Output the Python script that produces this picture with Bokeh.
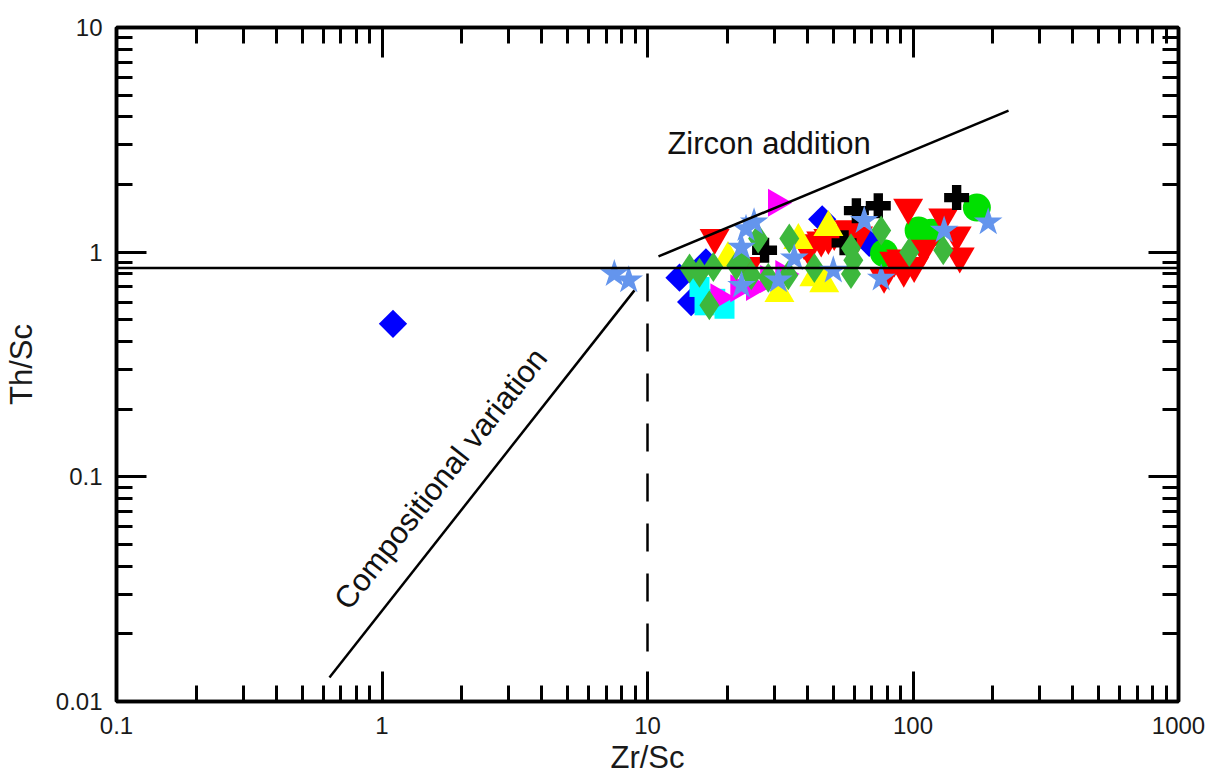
from bokeh.plotting import figure
from bokeh.models import LogAxis, FixedTicker, CustomJSTickFormatter, Span, Label
from bokeh.embed import file_html
from bokeh.resources import INLINE
import math

# ---- axis ticks -------------------------------------------------------
x_major = [0.1, 1, 10, 100, 1000]
y_major = [0.01, 0.1, 1, 10]

# ---- sample groups: Zr/Sc (x) and Th/Sc (y) ---------------------------
blue_zr = [1.10, 13.2, 14.6, 16.6, 45.5, 68.4]
blue_th = [0.48, 0.77, 0.60, 0.90, 1.40, 1.10]

cyan_zr = [16.4, 19.5, 15.7, 18.0]
cyan_th = [0.58, 0.56, 0.70, 0.62]

lime_zr = [174, 105, 117, 77.8]
lime_th = [1.58, 1.25, 1.22, 0.99]

red_zr = [17.9, 45.1, 50.5, 57.5, 40.3, 62.1, 95.9, 130, 150, 146, 110,
          90.3, 101, 77.8, 85.0, 92.3, 48.0, 24.0, 38.9]
red_th = [1.16, 1.13, 1.21, 1.27, 1.04, 1.19, 1.58, 1.43, 0.96, 1.19, 1.04,
          0.94, 0.87, 0.78, 0.92, 0.83, 1.16, 0.87, 1.10]

black_zr = [146, 74.0, 61.2, 27.6, 55.0]
black_th = [1.75, 1.61, 1.53, 1.02, 1.10]

magenta_zr = [30.5, 32.5, 25.2, 18.5, 22.0, 28.5]
magenta_th = [1.66, 0.80, 0.70, 0.63, 0.69, 0.76]

yellow_zr = [31.4, 37.0, 42.5, 48.0, 20.1, 46.3]
yellow_th = [0.655, 1.13, 0.77, 1.29, 0.94, 0.725]

green_zr = [14.4, 15.7, 17.1, 21.6, 22.6, 24.6, 26.1, 28.5, 34.2, 33.9,
            42.5, 58.4, 58.4, 59.6, 75.9, 96.8, 130, 17.7]
green_th = [0.846, 0.81, 0.58, 0.87, 0.92, 0.79, 1.15, 0.77, 1.15, 0.79,
            0.85, 0.80, 1.04, 0.92, 1.25, 1.00, 1.02, 0.86]

star_zr = [7.5, 8.5, 23.5, 25.2, 22.6, 22.6, 35.7, 50.1, 65.5, 75.9, 131, 192, 31.1]
star_th = [0.80, 0.75, 1.27, 1.36, 1.05, 0.71, 0.94, 0.83, 1.38, 0.764, 1.25, 1.36, 0.75]

# ---- reference lines --------------------------------------------------
crust_th_sc = 0.85
sorting_x = [10, 10]
sorting_y = [0.01, 0.85]
comp_x = [0.634, 8.93]
comp_y = [0.0128, 0.676]
zircon_x = [11.0, 229]
zircon_y = [0.957, 4.27]

FONT = "Liberation Sans"

p = figure(width=1206, height=778, x_axis_type="log", y_axis_type="log",
           x_range=(0.1, 1000), y_range=(0.01, 10),
           output_backend="svg", toolbar_location=None,
           min_border_left=115, min_border_right=28,
           min_border_top=27, min_border_bottom=77)
p.grid.visible = False
p.background_fill_color = "white"
p.border_fill_color = "white"
p.outline_line_color = "black"
p.outline_line_width = 3.5

p.add_layout(LogAxis(), "above")
p.add_layout(LogAxis(), "right")

fmt = CustomJSTickFormatter(code="return String(Number(tick.toPrecision(6)));")
blank = CustomJSTickFormatter(code="return '';")


def minors(majors):
    out = []
    for m in majors[:-1]:
        out += [m * k for k in range(2, 10)]
    return out


for ax in p.xaxis:
    ax.ticker = FixedTicker(ticks=x_major, minor_ticks=minors(x_major))
for ax in p.yaxis:
    ax.ticker = FixedTicker(ticks=y_major, minor_ticks=minors(y_major))

for ax in list(p.xaxis) + list(p.yaxis):
    ax.formatter = fmt
    ax.axis_line_width = 3.5
    ax.axis_line_color = "black"
    ax.major_tick_in = 30
    ax.major_tick_out = 0
    ax.minor_tick_in = 16
    ax.minor_tick_out = 0
    ax.major_tick_line_width = 3
    ax.minor_tick_line_width = 3
    ax.major_tick_line_color = "black"
    ax.minor_tick_line_color = "black"
    ax.major_label_text_font = FONT
    ax.major_label_text_font_size = "24px"
    ax.major_label_text_color = "#1a1a1a"
    ax.axis_label_text_font = FONT
    ax.axis_label_text_font_style = "normal"
    ax.axis_label_text_font_size = "31px"
    ax.axis_label_text_color = "#1a1a1a"

# opposite axes carry ticks only
for ax in (p.above[0], p.right[0]):
    ax.formatter = blank
    ax.major_label_standoff = 0

p.below[0].axis_label = "Zr/Sc"
p.below[0].major_label_standoff = 15
p.below[0].axis_label_standoff = 3
p.left[0].axis_label = "Th/Sc"
p.left[0].major_label_standoff = 14
p.left[0].axis_label_standoff = 14

# ---- samples ----------------------------------------------------------
p.scatter(blue_zr, blue_th, marker="square", angle=math.pi / 4, size=20,
          fill_color="#0000FF", line_color=None)
p.scatter(cyan_zr, cyan_th, marker="square", size=20,
          fill_color="#00FFFF", line_color=None)
p.scatter(lime_zr, lime_th, marker="circle", size=28,
          fill_color="#00E000", line_color=None)
p.scatter(red_zr, red_th, marker="inverted_triangle", size=30,
          fill_color="#FF0000", line_color=None)
p.scatter(black_zr, black_th, marker="plus", size=25,
          fill_color="#000000", line_color=None)
p.scatter(magenta_zr, magenta_th, marker="triangle", angle=-math.pi / 2, size=28,
          fill_color="#FF00FF", line_color=None)
p.scatter(yellow_zr, yellow_th, marker="triangle", size=30,
          fill_color="#FFFF00", line_color=None)
p.scatter(green_zr, green_th, marker="diamond", size=30,
          fill_color="#3DB83D", line_color=None)
p.scatter(star_zr, star_th, marker="star", size=30,
          fill_color="#6495ED", line_color=None)

# ---- reference lines --------------------------------------------------
p.add_layout(Span(location=crust_th_sc, dimension="width",
                  line_color="black", line_width=2.5))
p.line(sorting_x, sorting_y, line_color="black", line_width=2.5, line_dash="28 22")
p.line(comp_x, comp_y, line_color="black", line_width=2.5)
p.line(zircon_x, zircon_y, line_color="black", line_width=2.5)

p.add_layout(Label(x=28.7, y=3.05, text="Zircon addition", text_align="center",
                   text_baseline="middle", text_font=FONT, text_font_size="31px",
                   text_color="#111111"))
p.add_layout(Label(x=0.70, y=0.0268, text="Compositional variation",
                   angle=math.atan2(387, 305), text_align="left",
                   text_baseline="alphabetic", text_font=FONT,
                   text_font_size="31px", text_color="#111111"))

open("out.html", "w").write(file_html(p, INLINE))
